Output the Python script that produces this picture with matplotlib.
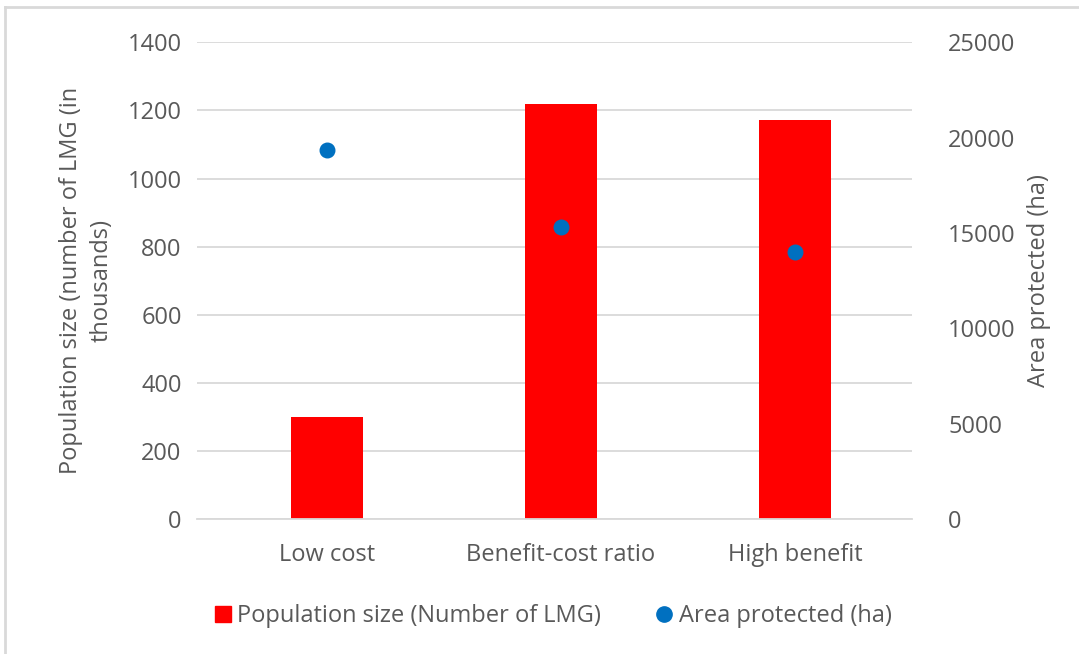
import matplotlib
matplotlib.use("Agg")
import matplotlib.pyplot as plt
from matplotlib.lines import Line2D

# Scenario results
scenarios = ["Low cost", "Benefit-cost ratio", "High benefit"]
population_k = [300, 1220, 1173]        # number of LMG, thousands
area_ha = [19350, 15300, 14000]         # area protected, ha

plt.rcParams["font.family"] = ["Open Sans", "DejaVu Sans"]
txt = "#595959"
grid = "#d9d9d9"

fig = plt.figure(figsize=(10.79, 6.54), dpi=100)
ax1 = fig.add_axes([197 / 1079, 1 - 519.3 / 654, 715 / 1079, 477 / 654])
ax2 = ax1.twinx()

x = list(range(len(scenarios)))
ax1.bar(x, population_k, width=0.31, color="#ff0000", zorder=2)
ax2.scatter(x, area_ha, s=110, color="#0070c0", zorder=3)

ax1.set_xlim(-0.555, 2.5)
ax1.set_ylim(0, 1400)
ax1.set_yticks(range(0, 1401, 200))
ax2.set_ylim(0, 25000)
ax2.set_yticks(range(0, 25001, 5000))

ax1.set_xticks(x)
ax1.set_xticklabels(scenarios)
ax1.yaxis.grid(True, color=grid, linewidth=1.3, zorder=0)
ax1.set_axisbelow(True)

for a in (ax1, ax2):
    for s in a.spines.values():
        s.set_visible(False)
    a.tick_params(length=0, labelsize=17, colors=txt)
ax1.spines["bottom"].set_visible(True)
ax1.spines["bottom"].set_color(grid)
ax1.spines["bottom"].set_linewidth(1.3)
ax1.tick_params(axis="y", pad=11)
ax1.tick_params(axis="x", pad=17)
ax2.tick_params(axis="y", pad=26)

ax1.set_ylabel("Population size (number of LMG (in\nthousands)", fontsize=17,
               color=txt, linespacing=1.4, labelpad=10)
ax2.set_ylabel("Area protected (ha)", fontsize=17, color=txt, labelpad=8)

handles = [
    Line2D([], [], marker="s", linestyle="none", color="#ff0000", markersize=12),
    Line2D([], [], marker="o", linestyle="none", color="#0070c0", markersize=11),
]
fig.legend(handles, ["Population size (Number of LMG)", "Area protected (ha)"],
           loc="center", bbox_to_anchor=(0.513, 0.058), ncol=2, frameon=False,
           fontsize=17, labelcolor=txt, handlelength=0.6, handletextpad=0.3,
           columnspacing=2.4)

# light chart-area border
fig.add_artist(Line2D([5 / 1079, 1.01], [1 - 7 / 654] * 2, color=grid, linewidth=2,
                      transform=fig.transFigure))
fig.add_artist(Line2D([5 / 1079] * 2, [-0.01, 1 - 7 / 654], color=grid, linewidth=2,
                      transform=fig.transFigure))

fig.savefig("out.png", dpi=100)
